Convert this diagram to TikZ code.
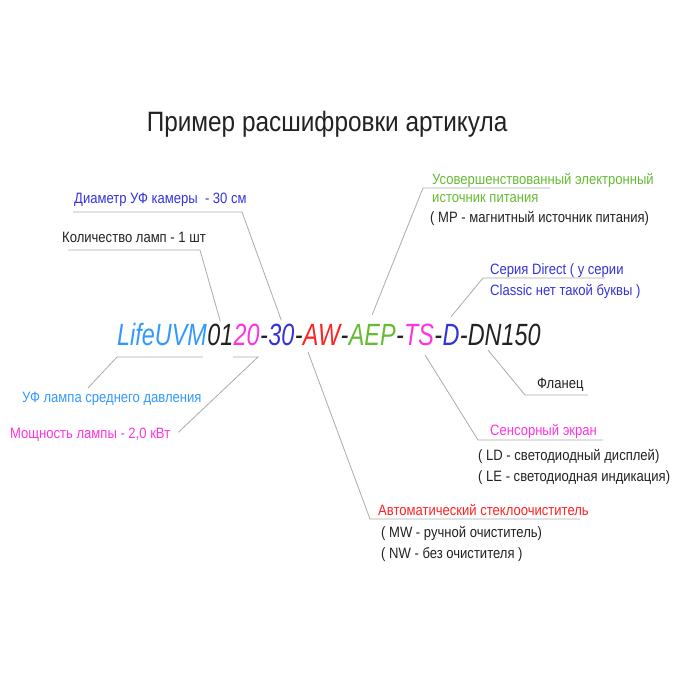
\documentclass[tikz,border=0pt]{standalone}
\usepackage{fontspec}
\setmainfont{Liberation Sans}
\newfontfamily\codefont[FakeStretch=0.762]{Liberation Sans}
\newfontfamily\lblfont[FakeStretch=0.87]{Liberation Sans}
\usepackage{tikz}
\definecolor{ink}{HTML}{222222}
\definecolor{skyblue}{HTML}{3399FF}
\definecolor{deepblue}{HTML}{3333DD}
\definecolor{pink}{HTML}{FF33DD}
\definecolor{redw}{HTML}{FF2222}
\definecolor{leafgreen}{HTML}{66BB33}
\definecolor{leadgray}{HTML}{AAAAAA}
\tikzstyle{part}=[inner sep=0pt,anchor=base west,font=\codefont\itshape\fontsize{30.7}{32}\selectfont]
\tikzstyle{label}=[inner sep=0pt,anchor=base west,align=left,font=\lblfont\fontsize{15}{21}\selectfont]
\tikzstyle{leader}=[draw=leadgray,line width=0.8pt]

\begin{document}
\begin{tikzpicture}[x=1pt,y=-1pt]
        \useasboundingbox (0,0) rectangle (700,700);
        \node at (327,132) [inner sep=0pt,anchor=base,text=ink,font=\lblfont\fontsize{28}{30}\selectfont] (title) {Пример расшифровки артикула};

        \node at (117,345) [part,text=skyblue]  (life)  {LifeUVM};
        \node at (life.base east)  [part,text=ink]       (lamps) {01};
        \node at (lamps.base east) [part,text=pink]      (power) {20};
        \node at (power.base east) [part,text=ink]       (s1)    {-};
        \node at (s1.base east)    [part,text=deepblue]  (diam)  {30};
        \node at (diam.base east)  [part,text=ink]       (s2)    {-};
        \node at (s2.base east)    [part,text=redw]      (aw)    {AW};
        \node at (aw.base east)    [part,text=ink]       (s3)    {-};
        \node at (s3.base east)    [part,text=leafgreen] (aep)   {AEP};
        \node at (aep.base east)   [part,text=ink]       (s4)    {-};
        \node at (s4.base east)    [part,text=pink]      (ts)    {TS};
        \node at (ts.base east)    [part,text=ink]       (s5)    {-};
        \node at (s5.base east)    [part,text=deepblue]  (dir)   {D};
        \node at (dir.base east)   [part,text=ink]       (flange){-DN150};

        % multi-line labels: base is the last line
        \node at (74,204)  [label,text=deepblue]  (ldiam)  {Диаметр УФ камеры~ - 30 см};
        \node at (62,243)  [label,text=ink]       (llamps) {Количество ламп - 1 шт};
        \node at (432,203) [label,text=leafgreen,font=\lblfont\fontsize{15}{18}\selectfont] (laep) {Усовершенствованный электронный\\источник питания};
        \node at (430,223) [label,text=ink]       (laep2)  {( MP - магнитный источник питания)};
        \node at (490,295) [label,text=deepblue]  (ldir)   {Серия Direct ( у серии\\Classic нет такой буквы )};
        \node at (22,402)  [label,text=skyblue]   (llife)  {УФ лампа среднего давления};
        \node at (10,438)  [label,text=pink]      (lpower) {Мощность лампы - 2,0 кВт};
        \node at (537,388) [label,text=ink]       (lflange){Фланец};
        \node at (490,435) [label,text=pink]      (lts)    {Сенсорный экран};
        \node at (478,481) [label,text=ink]       (lts2)   {( LD - светодиодный дисплей)\\( LE - светодиодная индикация)};
        \node at (378,515) [label,text=redw]      (law)    {Автоматический стеклоочиститель};
        \node at (381,558) [label,text=ink]       (law2)   {( MW - ручной очиститель)\\( NW - без очистителя )};

        \coordinate (kdiam)   at (242,212);
        \coordinate (klamps)  at (200,250);
        \coordinate (kaep)    at (423,188);
        \coordinate (kdir)    at (483,278);
        \coordinate (klife)   at (117,357);
        \coordinate (kpower)  at (258,357);
        \coordinate (kaw)     at (370,519);
        \coordinate (kts)     at (478,440);
        \coordinate (kflange) at (525,395);

        \draw [leader] (73,212) -- (kdiam) -- ([yshift=3pt]diam.north);
        \draw [leader] (68,250) -- (klamps) -- ([yshift=2pt]lamps.north);
        \draw [leader] (550,188) -- (kaep) -- ([yshift=9pt]aep.north);
        \draw [leader] (605,278) -- (kdir) -- ([yshift=7pt]dir.north);
        \draw [leader] (203,357) -- (klife) -- (88,388);
        \draw [leader] (233,357) -- (kpower) -- ([xshift=8pt,yshift=2pt]lpower.east);
        \draw [leader] (308,352) -- (kaw) -- (580,519);
        \draw [leader] (425,355) -- (kts) -- (603,440);
        \draw [leader] (488,350) -- (kflange) -- (588,395);
\end{tikzpicture}
\end{document}
